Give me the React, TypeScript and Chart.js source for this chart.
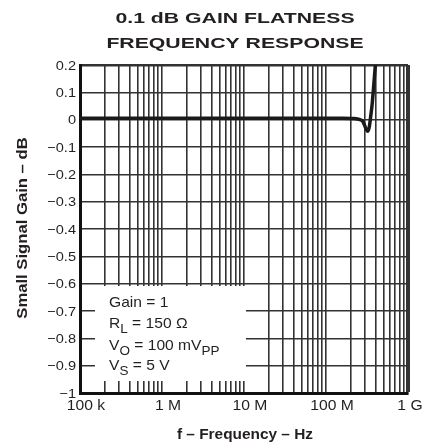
import React, { useEffect, useRef } from "react";
import { Chart, registerables } from "chart.js";

Chart.register(...registerables);

// ---- Data ----
const frequencyHz = [
  1e5, 3e5, 1e6, 3e6, 1e7, 3e7, 1e8, 1.6e8, 2.2e8, 2.6e8, 2.8e8, 2.95e8, 3.1e8, 3.25e8, 3.38e8, 3.5e8, 3.65e8, 3.82e8,
  4.0e8, 4.25e8,
];
const gainDb = [
  0.005, 0.005, 0.005, 0.005, 0.005, 0.005, 0.005, 0.005, 0.004, 0.0, -0.006, -0.02, -0.036, -0.042, -0.025, 0.01,
  0.055, 0.125, 0.2, 0.32,
];

const xTickValues = [1e5, 1e6, 1e7, 1e8, 1e9];
const xTickLabels = ["100 k", "1 M", "10 M", "100 M", "1 G"];
const xMinorMultipliers = [1, 2, 3, 4, 5, 6, 7, 8, 9];

const yTickValues = [0.2, 0.1, 0, -0.1, -0.2, -0.3, -0.4, -0.5, -0.6, -0.7, -0.8, -0.9, -1];
const yTickLabels = ["0.2", "0.1", "0", "\u22120.1", "\u22120.2", "\u22120.3", "\u22120.4", "\u22120.5", "\u22120.6", "\u22120.7", "\u22120.8", "\u22120.9", "\u22121"];

const titleLines = ["0.1 dB GAIN FLATNESS", "FREQUENCY RESPONSE"];
const xAxisTitle = "f \u2013 Frequency \u2013 Hz";
const yAxisTitle = "Small Signal Gain \u2013 dB";

type Seg = { t: string; sub?: boolean };
const noteLines: Seg[][] = [
  [{ t: "Gain = 1" }],
  [{ t: "R" }, { t: "L", sub: true }, { t: " = 150 \u03A9" }],
  [{ t: "V" }, { t: "O", sub: true }, { t: " = 100 mV" }, { t: "PP", sub: true }],
  [{ t: "V" }, { t: "S", sub: true }, { t: " = 5 V" }],
];

const TEXT = "#231f20";
const GRID = "#333333";
const SANS = "'Liberation Sans', Arial, sans-serif";

function stretchedText(
  ctx: CanvasRenderingContext2D,
  text: string,
  x: number,
  y: number,
  font: string,
  sx: number,
  align: CanvasTextAlign,
  rotate = 0,
  baseline: CanvasTextBaseline = "alphabetic"
) {
  ctx.save();
  ctx.font = font;
  ctx.fillStyle = TEXT;
  ctx.translate(x, y);
  if (rotate) ctx.rotate(rotate);
  ctx.scale(sx, 1);
  ctx.textAlign = align;
  ctx.textBaseline = baseline;
  ctx.fillText(text, 0, 0);
  ctx.restore();
}

const decorPlugin = {
  id: "decor",
  beforeDatasetsDraw(chart: any) {
    const ctx: CanvasRenderingContext2D = chart.ctx;
    ctx.save();
    ctx.fillStyle = "#ffffff";
    ctx.fillRect(95, 286, 151, 95);
    ctx.restore();
    const baselines = [307, 328, 350, 370];
    noteLines.forEach((segs, i) => {
      let x = 109;
      segs.forEach((s) => {
        ctx.save();
        ctx.font = s.sub ? `13px ${SANS}` : `15px ${SANS}`;
        ctx.fillStyle = TEXT;
        ctx.textAlign = "left";
        ctx.textBaseline = "alphabetic";
        const y = baselines[i] + (s.sub ? 5 : 0);
        ctx.translate(x, y);
        ctx.scale(1.04, 1);
        ctx.fillText(s.t, 0, 0);
        const w = ctx.measureText(s.t).width * 1.04;
        ctx.restore();
        x += w;
      });
    });
  },
  afterDraw(chart: any) {
    const ctx: CanvasRenderingContext2D = chart.ctx;
    const { left, right, bottom } = chart.chartArea;
    const xs = chart.scales.x;
    const ys = chart.scales.y;
    // tick labels, positioned by the chart's scales
    xTickValues.forEach((v, i) => {
      const px = xs.getPixelForValue(v) + (i === xTickValues.length - 1 ? 2 : 6);
      stretchedText(ctx, xTickLabels[i], px, bottom + 17, `14px ${SANS}`, 1.12, "center");
    });
    yTickValues.forEach((v, i) => {
      const py = ys.getPixelForValue(v);
      stretchedText(ctx, yTickLabels[i], left - 4, py + 1, `13px ${SANS}`, 1.12, "right", 0, "middle");
    });
    const cx = (left + right) / 2 - 9;
    stretchedText(ctx, titleLines[0], cx, 23, `bold 15.5px ${SANS}`, 1.37, "center");
    stretchedText(ctx, titleLines[1], cx, 48, `bold 15.5px ${SANS}`, 1.37, "center");
    stretchedText(ctx, xAxisTitle, 245, 439, `bold 14px ${SANS}`, 1.1, "center");
    stretchedText(ctx, yAxisTitle, 27, 228, `bold 14px ${SANS}`, 1.19, "center", -Math.PI / 2);
  },
};

export default function App() {
  const ref = useRef<HTMLCanvasElement | null>(null);

  useEffect(() => {
    if (!ref.current) return;
    const gridValues: number[] = [];
    for (let d = 1e5; d < 1e9; d *= 10) {
      xMinorMultipliers.forEach((m) => gridValues.push(m * d));
    }
    gridValues.push(1e9);

    const chart = new Chart(ref.current, {
      type: "line",
      data: {
        datasets: [
          {
            data: frequencyHz.map((f, i) => ({ x: f, y: gainDb[i] })),
            borderColor: "#1a1a1a",
            borderWidth: 3.5,
            pointRadius: 0,
            cubicInterpolationMode: "monotone",
            fill: false,
          },
        ],
      },
      options: {
        responsive: false,
        animation: false,
        events: [],
        layout: { padding: { top: 65, right: 29, bottom: 0, left: 0 } },
        plugins: { legend: { display: false }, title: { display: false }, tooltip: { enabled: false } },
        scales: {
          x: {
            type: "logarithmic",
            min: 1e5,
            max: 1e9,
            afterBuildTicks: (scale: any) => {
              scale.ticks = gridValues.map((v) => ({ value: v }));
            },
            afterFit: (scale: any) => {
              scale.height = 52;
            },
            ticks: { display: false, autoSkip: false, maxRotation: 0 },
            grid: {
              color: GRID,
              lineWidth: (c: any) => (c.tick && c.tick.value >= 1e9 * 0.999 ? 4 : 1.6),
              drawTicks: false,
            },
            border: { display: true, color: "#111111", width: 3 },
          },
          y: {
            type: "linear",
            min: -1,
            max: 0.2,
            afterBuildTicks: (scale: any) => {
              scale.ticks = yTickValues.map((v) => ({ value: v }));
            },
            afterFit: (scale: any) => {
              scale.width = 80;
            },
            ticks: { display: false, autoSkip: false },
            grid: {
              color: GRID,
              lineWidth: (c: any) => (c.tick && Math.abs(c.tick.value - 0.2) < 1e-6 ? 2.5 : 1.6),
              drawTicks: false,
            },
            border: { display: true, color: "#111111", width: 3 },
          },
        },
      },
      plugins: [decorPlugin],
    } as any);
    return () => chart.destroy();
  }, []);

  return (
    <div style={{ position: "fixed", left: 0, top: 0, width: 437, height: 445, background: "#fff" }}>
      <canvas ref={ref} width={437} height={445} />
    </div>
  );
}
